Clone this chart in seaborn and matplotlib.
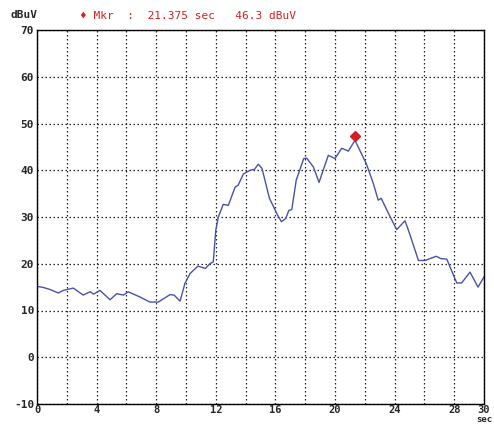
import matplotlib
matplotlib.use("Agg")
import matplotlib.pyplot as plt
import seaborn as sns
import pandas as pd

time_sec = [0.0, 0.45, 0.87, 1.43, 1.77, 2.44, 3.1, 3.56, 3.8, 4.23, 4.9, 5.35, 5.8, 6.13, 6.9,
            7.58, 8.14, 8.93, 9.2, 9.6, 9.93, 10.27, 10.8, 11.3, 11.6, 11.83, 12.0, 12.17,
            12.5, 12.84, 13.3, 13.5, 13.85, 14.3, 14.6, 14.85, 15.1, 15.6, 16.1, 16.4, 16.7,
            16.9, 17.1, 17.4, 17.9, 18.1, 18.55, 18.93, 19.55, 20.0, 20.45, 20.9, 21.34,
            22.1, 22.57, 22.9, 23.1, 23.6, 24.14, 24.7, 25.0, 25.6, 26.04, 26.8, 27.1, 27.5,
            28.17, 28.5, 29.06, 29.6, 30.0]
level_dbuv = [15.2, 14.9, 14.5, 13.75, 14.3, 14.8, 13.3, 14.0, 13.5, 14.3, 12.3, 13.6, 13.3, 14.0, 12.9,
              11.8, 11.8, 13.4, 13.3, 12.0, 15.8, 17.9, 19.5, 19.0, 20.0, 20.4, 27.2, 30.0,
              32.7, 32.5, 36.4, 36.8, 39.2, 40.0, 40.2, 41.3, 40.4, 34.0, 30.7, 29.0, 29.7,
              31.4, 31.6, 37.9, 42.5, 42.6, 40.7, 37.4, 43.2, 42.5, 44.7, 44.1, 46.4,
              41.4, 37.2, 33.6, 34.0, 30.7, 27.3, 29.2, 26.5, 20.7, 20.7, 21.6, 21.1, 21.0,
              15.9, 15.9, 18.2, 15.0, 17.2]

marker_time = 21.375
marker_level = 46.3
marker_draw_level = 47.4

x_ticks = [0, 4, 8, 12, 16, 20, 24, 28, 30]
y_ticks = [-10, 0, 10, 20, 30, 40, 50, 60, 70]

df = pd.DataFrame({"t": time_sec, "v": level_dbuv})

sns.set_style("white")
mono = ["DejaVu Sans Mono"]
fig = plt.figure(figsize=(4.94, 4.24), dpi=100)
ax = fig.add_axes([37/494, 1 - 404/424, (484 - 37)/494, (404 - 30)/424])

sns.lineplot(data=df, x="t", y="v", ax=ax, color="#4a52a8", linewidth=1.0)
ax.plot([marker_time], [marker_draw_level], marker="D", color="#d62020", markersize=5, linestyle="none")

ax.set_xlim(0, 30)
ax.set_ylim(-10, 70)
ax.set_xticks(range(0, 31, 2), minor=False)
ax.set_yticks(y_ticks)
ax.grid(True, color="#222222", linestyle=(0, (1.2, 2.0)), linewidth=0.9)
ax.set_xticklabels([str(v) if v in x_ticks else "" for v in range(0, 31, 2)],
                   fontfamily=mono, fontweight="bold", fontsize=7.5)
ax.set_yticklabels([str(v) for v in y_ticks], fontfamily=mono, fontweight="bold", fontsize=8)
ax.tick_params(axis="x", length=0, pad=0.5)
ax.tick_params(axis="y", length=0, pad=2)
ax.set_xlabel("")
ax.set_ylabel("")
for s in ax.spines.values():
    s.set_color("black")
    s.set_linewidth(1.0)

fig.text(10/494, 1 - 15/424, "dBuV", fontfamily=mono, fontweight="bold", fontsize=8, va="center")
fig.text(492/494, 0.0, "sec", fontfamily=mono, fontweight="bold", fontsize=6.5,
         ha="right", va="bottom")
fig.text(80/494, 1 - 16/424,
         "\u2666 Mkr  :  %.3f sec   %.1f dBuV" % (marker_time, marker_level),
         fontfamily=mono, fontsize=8, color="#d62020", va="center")

fig.savefig("out.png", dpi=100)
